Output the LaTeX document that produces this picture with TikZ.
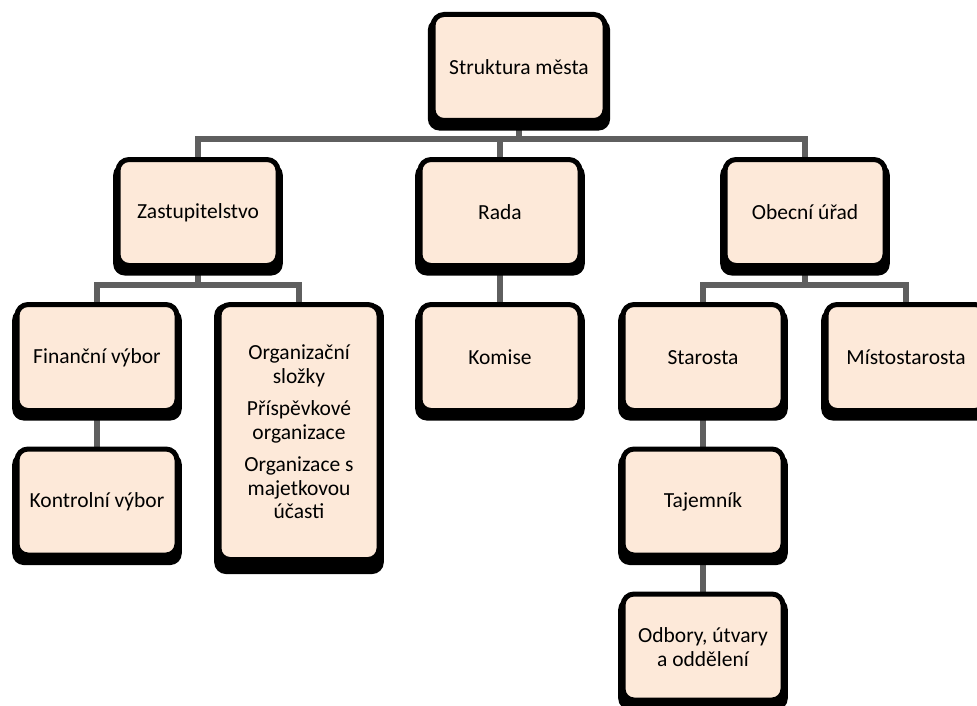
\documentclass[tikz,border=0pt]{standalone}
\usepackage{fontspec}
\setmainfont{Carlito}
\usetikzlibrary{shadows,backgrounds}
\definecolor{peach}{HTML}{FDE9D9}
\definecolor{linkgray}{HTML}{5F5F5F}
\begin{document}
\begin{tikzpicture}[x=1pt, y=-1pt,
  font=\fontsize{21.5}{23.5}\selectfont,
  box/.style={draw=black, line width=5pt, fill=peach, rounded corners=11pt,
    minimum width=160pt, minimum height=106pt, inner sep=0pt, align=center,
    general shadow={fill=black, shadow yshift=-6.5pt, shadow scale=1.06}},
  link/.style={draw=linkgray, line width=5.5pt}]
\useasboundingbox (0,0) rectangle (977,706);
\clip (0,0) rectangle (977,706);

% top level
\node[box, minimum width=172pt] (top) at (519,67.5) {Struktura města};

% second level
\node[box] (zast) at (198,212.5) {Zastupitelstvo};
\node[box] (rada) at (500,212.5) {Rada};
\node[box] (obec) at (805,212.5) {Obecní úřad};

% third level
\node[box] (fin) at (97,357.5) {Finanční výbor};
\node[box, minimum height=255pt] (org) at (299,432)
  {Organizační\\složky\\[9pt]Příspěvkové\\organizace\\[9pt]Organizace s\\majetkovou\\účasti};
\node[box] (komise) at (500,357.5) {Komise};
\node[box] (starosta) at (703,357.5) {Starosta};
\node[box] (misto) at (906,357.5) {Místostarosta};

% fourth and fifth level
\node[box] (kontrol) at (97,502) {Kontrolní výbor};
\node[box] (tajem) at (703,502) {Tajemník};
\node[box] (odbory) at (703,647) {Odbory, útvary\\a oddělení};

% connectors
\begin{pgfonlayer}{background}
  \coordinate (bus1) at (519,139);
  \coordinate (bus2) at (198,285);
  \coordinate (bus3) at (805,285);
  \draw[link] (top) -- (bus1);
  \draw[link] (zast.north) |- (bus1) -| (obec.north);
  \draw[link] (rada.north) -- (rada.north |- bus1);
  \draw[link] (zast) -- (bus2);
  \draw[link] (fin.north) |- (bus2) -| (org.north);
  \draw[link] (rada) -- (komise);
  \draw[link] (obec) -- (bus3);
  \draw[link] (starosta.north) |- (bus3) -| (misto.north);
  \draw[link] (fin) -- (kontrol);
  \draw[link] (starosta) -- (tajem);
  \draw[link] (tajem) -- (odbory);
\end{pgfonlayer}
\end{tikzpicture}
\end{document}
